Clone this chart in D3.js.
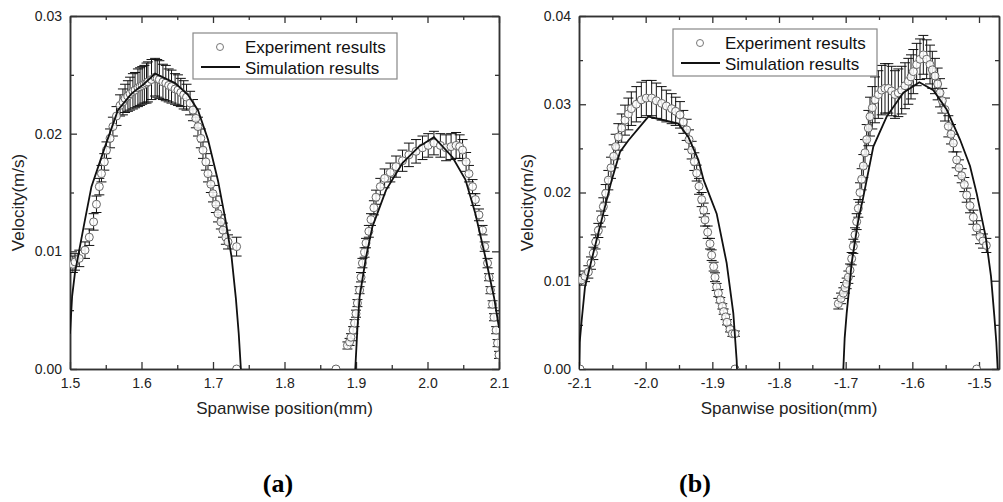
<!DOCTYPE html>
<html><head><meta charset="utf-8">
<script src="https://cdn.jsdelivr.net/npm/d3@7/dist/d3.min.js"></script>
<style>body{margin:0;background:#fff}svg{display:block}</style>
</head><body>
<script>
// ---------- DATA ----------
// Panel (a) experiment rows: [x (mm), velocity (m/s), error]
const expA1 = [[1.504,0.0089,0.0007],[1.507,0.0091,0.0007],[1.513,0.0094,0.0007],[1.521,0.0101,0.0007],[1.527,0.0112,0.0007],[1.533,0.0125,0.0007],[1.537,0.0140,0.0007],[1.541,0.0155,0.0007],[1.544,0.0166,0.0007],[1.548,0.0176,0.0007],[1.551,0.0186,0.0007],[1.556,0.0196,0.0008],[1.560,0.0206,0.0008],[1.565,0.0215,0.0008],[1.570,0.0224,0.0009],[1.574,0.0227,0.0011],[1.577,0.0230,0.0012],[1.581,0.0232,0.0013],[1.584,0.0234,0.0014],[1.588,0.0236,0.0015],[1.591,0.0237,0.0015],[1.595,0.0239,0.0016],[1.598,0.0240,0.0016],[1.601,0.0241,0.0016],[1.604,0.0242,0.0016],[1.607,0.0243,0.0017],[1.609,0.0244,0.0017],[1.614,0.0246,0.0017],[1.619,0.0248,0.0016],[1.622,0.0247,0.0016],[1.625,0.0246,0.0016],[1.630,0.0244,0.0015],[1.634,0.0243,0.0015],[1.638,0.0241,0.0014],[1.642,0.0240,0.0014],[1.647,0.0238,0.0013],[1.651,0.0237,0.0013],[1.655,0.0235,0.0012],[1.659,0.0233,0.0012],[1.663,0.0231,0.0011],[1.668,0.0226,0.0010],[1.672,0.0220,0.0009],[1.676,0.0213,0.0008],[1.679,0.0206,0.0008],[1.683,0.0196,0.0008],[1.686,0.0186,0.0007],[1.690,0.0176,0.0007],[1.693,0.0166,0.0007],[1.697,0.0157,0.0007],[1.700,0.0149,0.0007],[1.704,0.0140,0.0007],[1.707,0.0132,0.0007],[1.711,0.0125,0.0006],[1.714,0.0118,0.0006],[1.718,0.0112,0.0006],[1.721,0.0108,0.0006],[1.733,0.0104,0.0008],[1.733,0.0,0]];
const expA2 = [[1.872,0.0,0],[1.888,0.0020,0.0003],[1.891,0.0023,0.0003],[1.893,0.0027,0.0003],[1.896,0.0033,0.0003],[1.898,0.0039,0.0003],[1.900,0.0047,0.0003],[1.902,0.0056,0.0003],[1.905,0.0067,0.0003],[1.907,0.0078,0.0004],[1.909,0.0090,0.0004],[1.912,0.0099,0.0004],[1.914,0.0107,0.0004],[1.918,0.0117,0.0005],[1.921,0.0127,0.0005],[1.925,0.0137,0.0006],[1.928,0.0146,0.0006],[1.934,0.0155,0.0007],[1.940,0.0162,0.0008],[1.948,0.0167,0.0008],[1.956,0.0172,0.0009],[1.965,0.0177,0.0009],[1.974,0.0182,0.0010],[1.984,0.0185,0.0010],[1.993,0.0188,0.0010],[2.001,0.0190,0.0010],[2.009,0.0192,0.0010],[2.018,0.0190,0.0010],[2.026,0.0188,0.0011],[2.033,0.0189,0.0011],[2.040,0.0190,0.0011],[2.045,0.0189,0.0010],[2.049,0.0186,0.0009],[2.054,0.0176,0.0008],[2.058,0.0166,0.0007],[2.063,0.0155,0.0006],[2.067,0.0144,0.0005],[2.072,0.0131,0.0005],[2.077,0.0118,0.0004],[2.080,0.0104,0.0004],[2.084,0.0090,0.0004],[2.086,0.0078,0.0003],[2.088,0.0067,0.0003],[2.091,0.0055,0.0003],[2.093,0.0044,0.0003],[2.096,0.0033,0.0003],[2.098,0.0022,0.0003],[2.100,0.0012,0.0003]];
// Panel (a) simulation rows: [x, velocity]
const simA1 = [[1.500,0.0030],[1.503,0.0062],[1.507,0.0082],[1.512,0.0098],[1.521,0.0127],[1.530,0.0155],[1.549,0.0189],[1.567,0.0220],[1.586,0.0234],[1.603,0.0242],[1.619,0.0251],[1.633,0.0247],[1.647,0.0243],[1.665,0.0233],[1.679,0.0220],[1.693,0.0195],[1.707,0.0160],[1.718,0.0125],[1.726,0.0095],[1.732,0.0060],[1.736,0.0030],[1.739,0.0]];
const simA2 = [[1.899,0.0],[1.902,0.0035],[1.905,0.0061],[1.914,0.0095],[1.923,0.0121],[1.942,0.0152],[1.965,0.0175],[1.988,0.0189],[2.009,0.0197],[2.035,0.0180],[2.053,0.0161],[2.067,0.0132],[2.081,0.0095],[2.093,0.0061],[2.100,0.0035]];
// Panel (b) experiment rows
const expB1 = [[-2.0985,0.0,0],[-2.096,0.0101,0.0006],[-2.091,0.0105,0.0006],[-2.086,0.0110,0.0007],[-2.082,0.0120,0.0007],[-2.0785,0.0131,0.0007],[-2.075,0.0144,0.0008],[-2.071,0.0157,0.0008],[-2.067,0.0170,0.0009],[-2.0635,0.0184,0.0010],[-2.060,0.0199,0.0010],[-2.056,0.0214,0.0011],[-2.052,0.0228,0.0012],[-2.048,0.0241,0.0013],[-2.045,0.0252,0.0014],[-2.041,0.0263,0.0015],[-2.036,0.0273,0.0016],[-2.031,0.0282,0.0017],[-2.026,0.0289,0.0018],[-2.0215,0.0295,0.0019],[-2.014,0.0300,0.0020],[-2.0065,0.0305,0.0020],[-1.999,0.0307,0.0020],[-1.991,0.0307,0.0020],[-1.984,0.0304,0.0020],[-1.976,0.0301,0.0019],[-1.969,0.0298,0.0018],[-1.961,0.0295,0.0017],[-1.955,0.0292,0.0016],[-1.9485,0.0288,0.0015],[-1.9435,0.0280,0.0013],[-1.9385,0.0271,0.0012],[-1.935,0.0260,0.0011],[-1.931,0.0248,0.0010],[-1.927,0.0235,0.0010],[-1.9235,0.0222,0.0009],[-1.920,0.0207,0.0009],[-1.916,0.0192,0.0008],[-1.913,0.0180,0.0008],[-1.911,0.0169,0.0007],[-1.907,0.0155,0.0007],[-1.9035,0.0142,0.0006],[-1.901,0.0129,0.0006],[-1.898,0.0116,0.0005],[-1.896,0.0104,0.0005],[-1.8935,0.0093,0.0004],[-1.891,0.0086,0.0004],[-1.888,0.0078,0.0003],[-1.885,0.0071,0.0003],[-1.883,0.0065,0.0003],[-1.880,0.0059,0.0003],[-1.878,0.0053,0.0003],[-1.8735,0.0045,0.0003],[-1.870,0.0040,0.0003],[-1.866,0.0040,0.0003],[-1.866,0.0,0]];
const expB2 = [[-1.711,0.0074,0.0006],[-1.707,0.0080,0.0006],[-1.7035,0.0086,0.0006],[-1.701,0.0092,0.0006],[-1.6985,0.0097,0.0006],[-1.696,0.0104,0.0007],[-1.6935,0.0112,0.0007],[-1.691,0.0125,0.0007],[-1.6885,0.0139,0.0008],[-1.686,0.0152,0.0008],[-1.6835,0.0167,0.0009],[-1.681,0.0182,0.0010],[-1.6785,0.0200,0.0011],[-1.676,0.0215,0.0012],[-1.6735,0.0230,0.0013],[-1.671,0.0245,0.0015],[-1.6685,0.0260,0.0017],[-1.666,0.0273,0.0020],[-1.6635,0.0286,0.0022],[-1.660,0.0296,0.0024],[-1.656,0.0305,0.0026],[-1.651,0.0311,0.0027],[-1.646,0.0316,0.0028],[-1.641,0.0318,0.0028],[-1.636,0.0318,0.0028],[-1.631,0.0315,0.0028],[-1.626,0.0311,0.0027],[-1.621,0.0313,0.0027],[-1.616,0.0316,0.0027],[-1.611,0.0321,0.0026],[-1.606,0.0326,0.0026],[-1.602,0.0331,0.0025],[-1.5985,0.0337,0.0025],[-1.5935,0.0345,0.0024],[-1.5885,0.0351,0.0023],[-1.5835,0.0356,0.0022],[-1.5785,0.0351,0.0022],[-1.5735,0.0345,0.0022],[-1.570,0.0339,0.0021],[-1.566,0.0332,0.0020],[-1.562,0.0323,0.0018],[-1.5585,0.0313,0.0016],[-1.555,0.0304,0.0014],[-1.551,0.0294,0.0013],[-1.546,0.0275,0.0012],[-1.542,0.0266,0.0011],[-1.5385,0.0256,0.0010],[-1.5335,0.0237,0.0009],[-1.530,0.0228,0.0009],[-1.526,0.0219,0.0008],[-1.522,0.0209,0.0008],[-1.5185,0.0197,0.0008],[-1.5135,0.0185,0.0008],[-1.5085,0.0172,0.0008],[-1.5035,0.0160,0.0008],[-1.4985,0.0150,0.0008],[-1.494,0.0145,0.0008],[-1.489,0.0140,0.0008],[-1.5035,0.0,0]];
const simB1 = [[-2.100,0.0],[-2.099,0.0030],[-2.096,0.0055],[-2.091,0.0093],[-2.081,0.0124],[-2.066,0.0169],[-2.051,0.0214],[-2.0385,0.0246],[-2.026,0.0259],[-1.996,0.0286],[-1.951,0.0278],[-1.936,0.0263],[-1.921,0.0237],[-1.913,0.0214],[-1.8935,0.0176],[-1.8785,0.0120],[-1.8685,0.0063],[-1.8635,0.0010],[-1.863,0.0]];
const simB2 = [[-1.7035,0.0],[-1.7015,0.0035],[-1.6985,0.0063],[-1.691,0.0120],[-1.681,0.0169],[-1.6735,0.0195],[-1.6585,0.0252],[-1.6385,0.0286],[-1.6135,0.0313],[-1.5895,0.0325],[-1.5685,0.0316],[-1.5485,0.0294],[-1.5285,0.0260],[-1.5135,0.0230],[-1.5035,0.0199],[-1.490,0.0150],[-1.482,0.0105],[-1.477,0.0060],[-1.474,0.0030],[-1.472,0.0]];
// Tick values
const xTicksA = [1.5,1.6,1.7,1.8,1.9,2.0,2.1];
const xMinorA = [1.55,1.65,1.75,1.85,1.95,2.05];
const yTicksA = [0,0.01,0.02,0.03];
const yMinorA = [0.005,0.015,0.025];
const xTicksB = [-2.1,-2.0,-1.9,-1.8,-1.7,-1.6,-1.5];
const xMinorB = [-2.05,-1.95,-1.85,-1.75,-1.65,-1.55];
const yTicksB = [0,0.01,0.02,0.03,0.04];
const yMinorB = [0.005,0.015,0.025,0.035];
const legendLabels = ["Experiment results","Simulation results"];
const xTitle = "Spanwise position(mm)";
const yTitle = "Velocity(m/s)";
const panelLabels = ["(a)","(b)"];

// ---------- DRAW ----------
const svg = d3.select("body").append("svg").attr("width",1003).attr("height",502)
  .style("font-family","'Liberation Sans', Arial, sans-serif");

const panels = [
  {id:"a", left:70, right:499, top:16, bottom:369, xDomain:[1.5,2.1], yDomain:[0,0.03],
   xT:xTicksA, xM:xMinorA, yT:yTicksA, yM:yMinorA, exp:[expA1,expA2], sim:[simA1,simA2],
   legend:{x:193,y:33,w:204,h:46}, label:panelLabels[0], labelX:278, yTitleX:24},
  {id:"b", left:579, right:999, top:16, bottom:369, xDomain:[-2.1,-1.47], yDomain:[0,0.04],
   xT:xTicksB, xM:xMinorB, yT:yTicksB, yM:yMinorB, exp:[expB1,expB2], sim:[simB1,simB2],
   legend:{x:673,y:29,w:204,h:47}, label:panelLabels[1], labelX:695, yTitleX:533}
];

const axisColor = "#333";
panels.forEach(p => {
  const x = d3.scaleLinear().domain(p.xDomain).range([p.left,p.right]);
  const y = d3.scaleLinear().domain(p.yDomain).range([p.bottom,p.top]);
  const g = svg.append("g");

  svg.append("defs").append("clipPath").attr("id","clip"+p.id)
    .append("rect").attr("x",p.left).attr("y",p.top).attr("width",p.right-p.left).attr("height",p.bottom-p.top);

  const fmtX = d => d.toFixed(1);
  const fmtY = d => d.toFixed(2);

  function styleAxis(sel){
    sel.selectAll("path.domain").attr("stroke",axisColor).attr("stroke-width",1.5);
    sel.selectAll(".tick line").attr("stroke",axisColor).attr("stroke-width",1.3);
    sel.selectAll("text").attr("fill","#222").style("font-size","14px").style("font-family","'Liberation Sans', Arial, sans-serif");
  }
  g.append("g").attr("transform",`translate(0,${p.bottom})`)
    .call(d3.axisBottom(x).tickValues(p.xT).tickFormat(fmtX).tickSizeInner(-7).tickSizeOuter(0).tickPadding(9)).call(styleAxis);
  g.append("g").attr("transform",`translate(0,${p.bottom})`)
    .call(d3.axisBottom(x).tickValues(p.xM).tickFormat("").tickSizeInner(-4).tickSizeOuter(0)).call(styleAxis);
  g.append("g").attr("transform",`translate(0,${p.top})`)
    .call(d3.axisTop(x).tickValues(p.xT).tickFormat("").tickSizeInner(-7).tickSizeOuter(0)).call(styleAxis);
  g.append("g").attr("transform",`translate(0,${p.top})`)
    .call(d3.axisTop(x).tickValues(p.xM).tickFormat("").tickSizeInner(-4).tickSizeOuter(0)).call(styleAxis);
  g.append("g").attr("transform",`translate(${p.left},0)`)
    .call(d3.axisLeft(y).tickValues(p.yT).tickFormat(fmtY).tickSizeInner(-7).tickSizeOuter(0).tickPadding(8)).call(styleAxis);
  g.append("g").attr("transform",`translate(${p.left},0)`)
    .call(d3.axisLeft(y).tickValues(p.yM).tickFormat("").tickSizeInner(-4).tickSizeOuter(0)).call(styleAxis);
  g.append("g").attr("transform",`translate(${p.right},0)`)
    .call(d3.axisRight(y).tickValues(p.yT).tickFormat("").tickSizeInner(-7).tickSizeOuter(0)).call(styleAxis);
  g.append("g").attr("transform",`translate(${p.right},0)`)
    .call(d3.axisRight(y).tickValues(p.yM).tickFormat("").tickSizeInner(-4).tickSizeOuter(0)).call(styleAxis);

  const plot = svg.append("g").attr("clip-path",`url(#clip${p.id})`);
  const cap = 5;
  p.exp.forEach(series => {
    const eb = plot.append("g").attr("stroke","#111").attr("stroke-width",1);
    series.filter(d => d[2] > 0).forEach(d => {
      const cx = x(d[0]), y1 = y(d[1]+d[2]), y2 = y(d[1]-d[2]);
      eb.append("line").attr("x1",cx).attr("x2",cx).attr("y1",y1).attr("y2",y2);
      eb.append("line").attr("x1",cx-cap).attr("x2",cx+cap).attr("y1",y1).attr("y2",y1);
      eb.append("line").attr("x1",cx-cap).attr("x2",cx+cap).attr("y1",y2).attr("y2",y2);
    });
  });
  p.exp.forEach(series => {
    plot.append("g").selectAll("circle").data(series).join("circle")
      .attr("cx",d=>x(d[0])).attr("cy",d=>y(d[1])).attr("r",4)
      .attr("fill","#fff").attr("fill-opacity",0.85).attr("stroke","#666").attr("stroke-width",1);
  });
  const line = d3.line().x(d=>x(d[0])).y(d=>y(d[1]));
  p.sim.forEach(series => {
    plot.append("path").datum(series).attr("d",line).attr("fill","none").attr("stroke","#111").attr("stroke-width",1.8);
  });

  svg.append("text").attr("x",(p.left+p.right)/2).attr("y",414).attr("text-anchor","middle")
    .attr("fill","#222").style("font-size","17px").text(xTitle);
  svg.append("text").attr("transform",`translate(${p.yTitleX},${(p.top+p.bottom)/2 + 10}) rotate(-90)`)
    .attr("text-anchor","middle").attr("fill","#222").style("font-size","17px").text(yTitle);

  const L = p.legend;
  const lg = svg.append("g");
  lg.append("rect").attr("x",L.x).attr("y",L.y).attr("width",L.w).attr("height",L.h)
    .attr("fill","#fff").attr("stroke","#888").attr("stroke-width",1.2);
  lg.append("circle").attr("cx",L.x+27).attr("cy",L.y+14).attr("r",3.5).attr("fill","#fff").attr("stroke","#777");
  lg.append("line").attr("x1",L.x+8).attr("x2",L.x+47).attr("y1",L.y+34).attr("y2",L.y+34).attr("stroke","#111").attr("stroke-width",1.8);
  lg.selectAll("text").data(legendLabels).join("text")
    .attr("x",L.x+52).attr("y",(d,i)=>L.y+20+i*21).attr("fill","#111").style("font-size","17px").text(d=>d);

  svg.append("text").attr("x",p.labelX).attr("y",492).attr("text-anchor","middle")
    .style("font-family","'Liberation Serif','Times New Roman',serif").style("font-weight","bold")
    .style("font-size","26px").attr("fill","#000").text(p.label);
});
</script>
</body></html>
